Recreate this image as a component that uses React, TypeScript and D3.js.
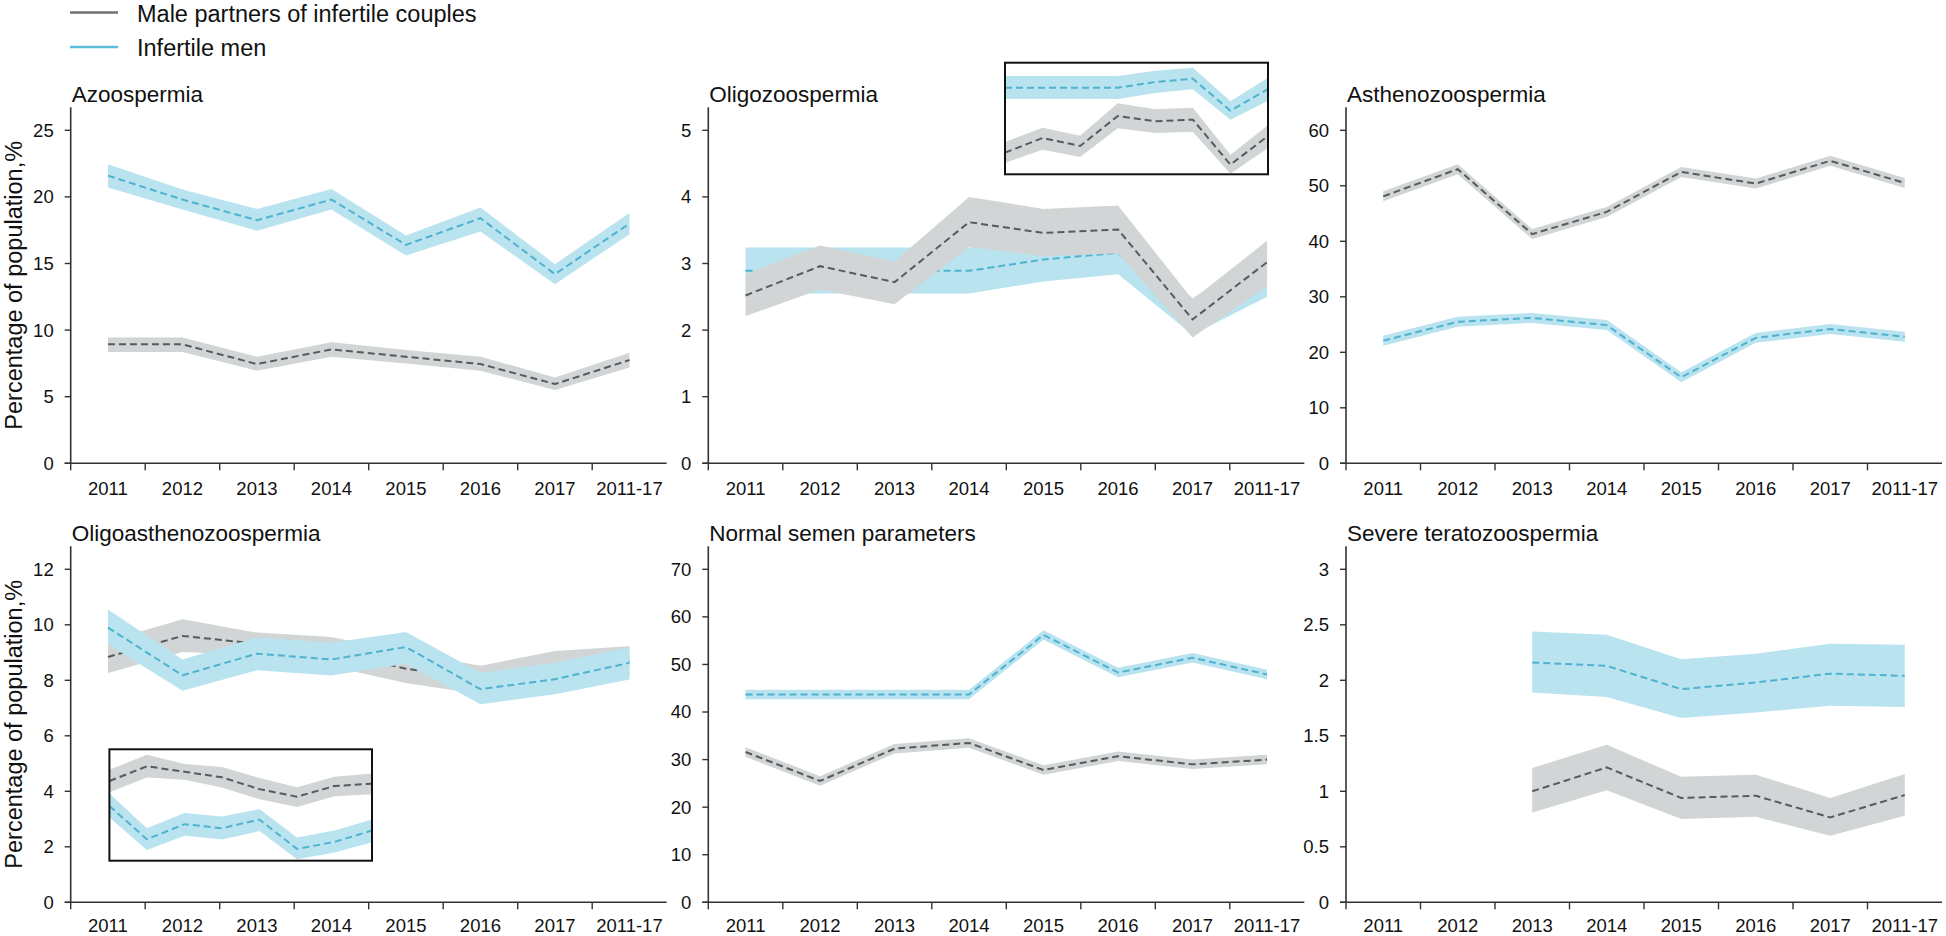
import React from 'react';
import * as d3 from 'd3';

// ---------- data ----------
const categories = ['2011', '2012', '2013', '2014', '2015', '2016', '2017', '2011-17'];

const seriesNames = ['Male partners of infertile couples', 'Infertile men'];

// Azoospermia
const azoPartners = [8.93, 8.93, 7.45, 8.55, 8.0, 7.45, 5.95, 7.75];
const azoPartnersLo = [8.35, 8.35, 6.95, 8.0, 7.5, 6.95, 5.5, 7.2];
const azoPartnersHi = [9.45, 9.45, 8.0, 9.08, 8.5, 8.0, 6.45, 8.3];
const azoInfertile = [21.6, 19.8, 18.25, 19.8, 16.4, 18.4, 14.2, 18.0];
const azoInfertileLo = [20.7, 19.05, 17.45, 19.05, 15.6, 17.4, 13.45, 17.2];
const azoInfertileHi = [22.45, 20.55, 19.1, 20.6, 17.1, 19.2, 14.95, 18.8];
const azoTicks = [0, 5, 10, 15, 20, 25];

// Oligozoospermia
const oligoPartners = [2.52, 2.96, 2.72, 3.62, 3.46, 3.51, 2.16, 3.02];
const oligoPartnersLo = [2.21, 2.61, 2.39, 3.25, 3.11, 3.15, 1.89, 2.66];
const oligoPartnersHi = [2.84, 3.27, 3.03, 4.0, 3.82, 3.87, 2.46, 3.34];
const oligoInfertile = [2.89, 2.89, 2.89, 2.89, 3.06, 3.16, 2.2, 2.85];
const oligoInfertileLo = [2.55, 2.55, 2.55, 2.55, 2.73, 2.84, 1.93, 2.5];
const oligoInfertileHi = [3.24, 3.24, 3.24, 3.24, 3.4, 3.49, 2.48, 3.19];
const oligoTicks = [0, 1, 2, 3, 4, 5];
const oligoInsetPartnersDomain = [1.87, 5.22];
const oligoInsetInfertileDomain = [0.29, 3.64];

// Asthenozoospermia
const asthenoPartners = [48.1, 53.0, 41.3, 45.3, 52.5, 50.4, 54.5, 50.5];
const asthenoPartnersLo = [47.2, 52.1, 40.4, 44.4, 51.6, 49.5, 53.6, 49.6];
const asthenoPartnersHi = [49.0, 53.9, 42.2, 46.2, 53.4, 51.3, 55.4, 51.4];
const asthenoInfertile = [22.1, 25.5, 26.2, 24.9, 15.5, 22.6, 24.2, 22.8];
const asthenoInfertileLo = [21.2, 24.6, 25.3, 24.0, 14.6, 21.7, 23.3, 21.9];
const asthenoInfertileHi = [23.0, 26.4, 27.1, 25.8, 16.4, 23.5, 25.1, 23.7];
const asthenoTicks = [0, 10, 20, 30, 40, 50, 60];

// Oligoasthenozoospermia
const oatPartners = [8.84, 9.6, 9.32, 9.03, 8.42, 8.03, 8.58, 8.7];
const oatPartnersLo = [8.26, 9.02, 8.9, 8.5, 7.9, 7.5, 8.05, 8.15];
const oatPartnersHi = [9.42, 10.2, 9.72, 9.56, 9.0, 8.52, 9.06, 9.23];
const oatInfertile = [9.9, 8.18, 8.96, 8.75, 9.2, 7.68, 8.04, 8.63];
const oatInfertileLo = [9.3, 7.62, 8.36, 8.17, 8.6, 7.14, 7.5, 8.03];
const oatInfertileHi = [10.55, 8.75, 9.54, 9.35, 9.74, 8.27, 8.63, 9.2];
const oatTicks = [0, 2, 4, 6, 8, 10, 12];
const oatInsetPartnersDomain = [4.72, 10.48];
const oatInsetInfertileDomain = [7.07, 12.83];

// Normal semen parameters
const normalPartners = [31.6, 25.5, 32.3, 33.5, 27.8, 30.7, 29.0, 30.0];
const normalPartnersLo = [30.6, 24.5, 31.3, 32.5, 26.8, 29.7, 28.0, 29.0];
const normalPartnersHi = [32.6, 26.5, 33.3, 34.5, 28.8, 31.7, 30.0, 31.0];
const normalInfertile = [43.7, 43.7, 43.7, 43.7, 56.2, 48.3, 51.4, 47.9];
const normalInfertileLo = [42.7, 42.7, 42.7, 42.7, 55.2, 47.3, 50.4, 46.9];
const normalInfertileHi = [44.7, 44.7, 44.7, 44.7, 57.2, 49.3, 52.4, 48.9];
const normalTicks = [0, 10, 20, 30, 40, 50, 60, 70];

// Severe teratozoospermia
const teratoPartners = [null, null, 1.0, 1.215, 0.94, 0.96, 0.765, 0.966];
const teratoPartnersLo = [null, null, 0.81, 1.01, 0.75, 0.77, 0.6, 0.78];
const teratoPartnersHi = [null, null, 1.21, 1.42, 1.13, 1.15, 0.94, 1.155];
const teratoInfertile = [null, null, 2.16, 2.13, 1.92, 1.98, 2.06, 2.04];
const teratoInfertileLo = [null, null, 1.89, 1.85, 1.66, 1.71, 1.77, 1.76];
const teratoInfertileHi = [null, null, 2.44, 2.41, 2.19, 2.24, 2.33, 2.32];
const teratoTicks = [0, 0.5, 1, 1.5, 2, 2.5, 3];

// ---------- layout & style ----------
const W = 1946;
const H = 936;
const COLS = [70.7, 708.3, 1346];
const ROWS = [463.3, 902.3];
const BAND_W = 74.5;
const PLOT_H = 333;
const AXIS_OVER = 23;
const FONT = '"Liberation Sans", Arial, Helvetica, sans-serif';
const AXIS_COLOR = '#333333';

const STYLE = {
  partners: { band: '#d1d5d5', line: '#575b5d', legend: '#6e7173' },
  infertile: { band: '#b9e3ef', line: '#4eb2d0', legend: '#5bbfdc' },
};

type Num = number | null;
type Series = { kind: 'partners' | 'infertile'; v: Num[]; lo: Num[]; hi: Num[] };
type Inset = { box: [number, number, number, number]; domains: { partners: number[]; infertile: number[] } };
type PanelCfg = {
  title: string;
  col: number;
  row: number;
  ticks: number[];
  order: Series[];
  inset?: Inset;
};

const panels: PanelCfg[] = [
  {
    title: 'Azoospermia', col: 0, row: 0, ticks: azoTicks,
    order: [
      { kind: 'infertile', v: azoInfertile, lo: azoInfertileLo, hi: azoInfertileHi },
      { kind: 'partners', v: azoPartners, lo: azoPartnersLo, hi: azoPartnersHi },
    ],
  },
  {
    title: 'Oligozoospermia', col: 1, row: 0, ticks: oligoTicks,
    order: [
      { kind: 'infertile', v: oligoInfertile, lo: oligoInfertileLo, hi: oligoInfertileHi },
      { kind: 'partners', v: oligoPartners, lo: oligoPartnersLo, hi: oligoPartnersHi },
    ],
    inset: {
      box: [1005, 62.7, 1268, 174.3],
      domains: { partners: oligoInsetPartnersDomain, infertile: oligoInsetInfertileDomain },
    },
  },
  {
    title: 'Asthenozoospermia', col: 2, row: 0, ticks: asthenoTicks,
    order: [
      { kind: 'infertile', v: asthenoInfertile, lo: asthenoInfertileLo, hi: asthenoInfertileHi },
      { kind: 'partners', v: asthenoPartners, lo: asthenoPartnersLo, hi: asthenoPartnersHi },
    ],
  },
  {
    title: 'Oligoasthenozoospermia', col: 0, row: 1, ticks: oatTicks,
    order: [
      { kind: 'partners', v: oatPartners, lo: oatPartnersLo, hi: oatPartnersHi },
      { kind: 'infertile', v: oatInfertile, lo: oatInfertileLo, hi: oatInfertileHi },
    ],
    inset: {
      box: [109.4, 749.3, 372, 860.7],
      domains: { partners: oatInsetPartnersDomain, infertile: oatInsetInfertileDomain },
    },
  },
  {
    title: 'Normal semen parameters', col: 1, row: 1, ticks: normalTicks,
    order: [
      { kind: 'partners', v: normalPartners, lo: normalPartnersLo, hi: normalPartnersHi },
      { kind: 'infertile', v: normalInfertile, lo: normalInfertileLo, hi: normalInfertileHi },
    ],
  },
  {
    title: 'Severe teratozoospermia', col: 2, row: 1, ticks: teratoTicks,
    order: [
      { kind: 'infertile', v: teratoInfertile, lo: teratoInfertileLo, hi: teratoInfertileHi },
      { kind: 'partners', v: teratoPartners, lo: teratoPartnersLo, hi: teratoPartnersHi },
    ],
  },
];

function SeriesMarks({ s, xf, y }: { s: Series; xf: (i: number) => number; y: (v: number) => number }) {
  const idx = categories.map((_, i) => i);
  const area = d3
    .area<number>()
    .defined((i) => s.lo[i] != null && s.hi[i] != null)
    .x((i) => xf(i))
    .y0((i) => y(s.lo[i] as number))
    .y1((i) => y(s.hi[i] as number));
  const line = d3
    .line<number>()
    .defined((i) => s.v[i] != null)
    .x((i) => xf(i))
    .y((i) => y(s.v[i] as number));
  const st = STYLE[s.kind];
  return (
    <g>
      <path d={area(idx) || ''} fill={st.band} stroke="none" />
      <path d={line(idx) || ''} fill="none" stroke={st.line} strokeWidth={2} strokeDasharray="7 4" />
    </g>
  );
}

function Panel({ cfg, id }: { cfg: PanelCfg; id: number }) {
  const x0 = COLS[cfg.col];
  const zero = ROWS[cfg.row];
  const x = d3.scaleBand<string>().domain(categories).range([x0, x0 + BAND_W * categories.length]).padding(0);
  const top = cfg.ticks[cfg.ticks.length - 1];
  const y = d3.scaleLinear().domain([0, top]).range([zero, zero - PLOT_H]);
  const xf = (i: number) => (x(categories[i]) as number) + x.bandwidth() / 2;
  const axisTop = y(top) - AXIS_OVER;
  const x1 = x0 + BAND_W * categories.length;
  const labelY = Math.min(zero + 31.7, H - 4.5);

  let insetEl = null;
  if (cfg.inset) {
    const [bx0, by0, bx1, by1] = cfg.inset.box;
    const xi = d3.scalePoint<string>().domain(categories).range([bx0, bx1]);
    const xfi = (i: number) => xi(categories[i]) as number;
    const clipId = `inset-clip-${id}`;
    insetEl = (
      <g>
        <defs>
          <clipPath id={clipId}>
            <rect x={bx0} y={by0} width={bx1 - bx0} height={by1 - by0} />
          </clipPath>
        </defs>
        <g clipPath={`url(#${clipId})`}>
          {cfg.order.map((s, k) => {
            const dom = cfg.inset!.domains[s.kind];
            const yi = d3.scaleLinear().domain(dom).range([by1, by0]);
            return <SeriesMarks key={k} s={s} xf={xfi} y={yi} />;
          })}
        </g>
        <rect x={bx0} y={by0} width={bx1 - bx0} height={by1 - by0} fill="none" stroke="#111" strokeWidth={2} />
      </g>
    );
  }

  return (
    <g>
      <text x={x0 + 1} y={zero - 361.6} fontSize={22.5} fill="#111" fontFamily={FONT}>
        {cfg.title}
      </text>
      {cfg.order.map((s, k) => (
        <SeriesMarks key={k} s={s} xf={xf} y={y} />
      ))}
      {insetEl}
      {/* y axis */}
      <line x1={x0} x2={x0} y1={axisTop} y2={zero} stroke={AXIS_COLOR} strokeWidth={1.6} />
      {cfg.ticks.map((t) => (
        <g key={t}>
          <line x1={x0 - 6} x2={x0} y1={y(t)} y2={y(t)} stroke={AXIS_COLOR} strokeWidth={1.4} />
          <text
            x={x0 - 17}
            y={y(t)}
            dy="0.35em"
            textAnchor="end"
            fontSize={18.5}
            fill="#111"
            fontFamily={FONT}
          >
            {String(t)}
          </text>
        </g>
      ))}
      {/* x axis */}
      <line x1={x0 - 6} x2={x1} y1={zero} y2={zero} stroke={AXIS_COLOR} strokeWidth={1.6} />
      {categories.map((c) => (
        <g key={c}>
          <line x1={x(c)} x2={x(c)} y1={zero} y2={zero + 7} stroke={AXIS_COLOR} strokeWidth={1.4} />
          <text
            x={(x(c) as number) + x.bandwidth() / 2}
            y={labelY}
            textAnchor="middle"
            fontSize={18.5}
            fill="#111"
            fontFamily={FONT}
          >
            {c}
          </text>
        </g>
      ))}
    </g>
  );
}

export default function App() {
  const yLabel = 'Percentage of population,%';
  return (
    <svg
      width={W}
      height={H}
      viewBox={`0 0 ${W} ${H}`}
      style={{ position: 'absolute', left: 0, top: 0, display: 'block', background: '#fff' }}
    >
      <rect x={0} y={0} width={W} height={H} fill="#fff" />
      {/* legend */}
      <g fontFamily={FONT} fontSize={23.5} fill="#111">
        <line x1={70} x2={118} y1={12.5} y2={12.5} stroke={STYLE.partners.legend} strokeWidth={2.4} />
        <text x={137} y={21.5}>{seriesNames[0]}</text>
        <line x1={70} x2={118} y1={47} y2={47} stroke={STYLE.infertile.legend} strokeWidth={2.4} />
        <text x={137} y={55.5}>{seriesNames[1]}</text>
      </g>
      {panels.map((p, i) => (
        <Panel key={i} cfg={p} id={i} />
      ))}
      {ROWS.map((zero, r) => {
        const cy = (zero + (zero - PLOT_H - AXIS_OVER)) / 2;
        return (
          <text
            key={r}
            transform={`translate(22,${cy}) rotate(-90)`}
            textAnchor="middle"
            fontSize={23.5}
            fill="#111"
            fontFamily={FONT}
          >
            {yLabel}
          </text>
        );
      })}
    </svg>
  );
}
